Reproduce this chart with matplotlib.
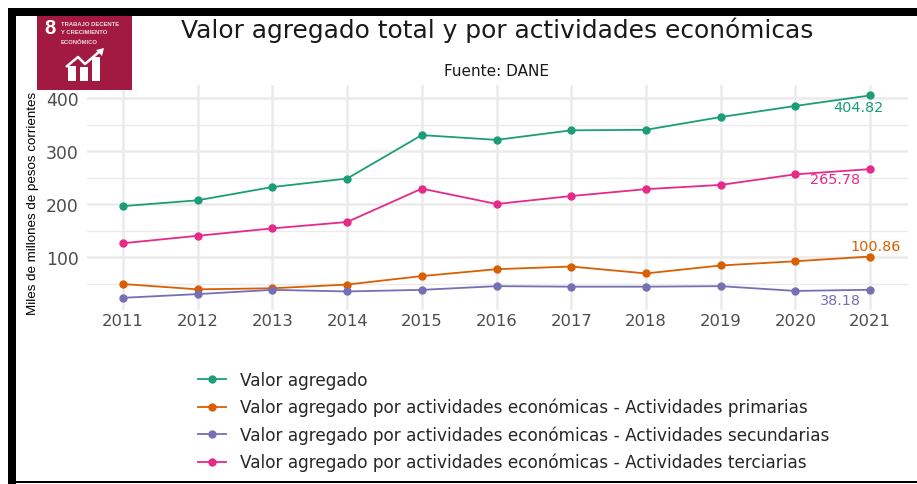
import matplotlib
matplotlib.use("Agg")
import matplotlib.pyplot as plt
from matplotlib.patches import Rectangle, Polygon

# Values
years = [2011, 2012, 2013, 2014, 2015, 2016, 2017, 2018, 2019, 2020, 2021]
valor_agregado = [196, 207, 232, 248, 330, 321, 339, 340, 364, 385, 404.82]
primarias = [49, 39, 41, 48, 64, 77, 82, 69, 84, 92, 100.86]
secundarias = [23, 30, 38, 35, 38, 45, 44, 44, 45, 36, 38.18]
terciarias = [126, 140, 154, 166, 229, 200, 215, 228, 236, 256, 265.78]

yticks = [100, 200, 300, 400]
minor_yticks = [50, 150, 250, 350]

nombres = [
    "Valor agregado",
    "Valor agregado por actividades económicas - Actividades primarias",
    "Valor agregado por actividades económicas - Actividades secundarias",
    "Valor agregado por actividades económicas - Actividades terciarias",
]
colores = ["#1B9E77", "#D95F02", "#7570B3", "#E7298A"]
W, H = 917, 485


def fig_box(x0, y0, x1, y1):
    return [x0 / W, 1 - y1 / H, (x1 - x0) / W, (y1 - y0) / H]


fig = plt.figure(figsize=(W / 100, H / 100), dpi=100)

# black frame round the screenshot
bg = fig.add_axes([0, 0, 1, 1])
bg.set_xlim(0, W)
bg.set_ylim(H, 0)
bg.axis("off")
bg.add_patch(Rectangle((8, 9), W - 8, 8, color="black", lw=0))
bg.add_patch(Rectangle((8, 9), 8, H - 9, color="black", lw=0))
bg.add_patch(Rectangle((8, 482), W - 8, 2, color="black", lw=0))
bg.text(497, 30, "Valor agregado total y por actividades económicas", ha="center", va="center",
        fontsize=17.9, color="#1a1a1a")
bg.text(497, 72, "Fuente: DANE", ha="center", va="center", fontsize=11, color="#1a1a1a")
bg.text(33, 203, "Miles de millones de pesos corrientes", rotation=90, ha="center", va="center",
        fontsize=9.6, family="Liberation Sans", color="black")

ax = fig.add_axes(fig_box(87, 86, 908, 311))
series = [valor_agregado, primarias, secundarias, terciarias]
for vals, nombre, color in zip(series, nombres, colores):
    ax.plot(years, vals, color=color, lw=1.3, marker="o", ms=5, label=nombre, zorder=3)

ax.set_xlim(2011 - 36 / 74.7, 2021 + 38 / 74.7)
ax.set_ylim(400 - 225 / 0.53 + 13 / 0.53, 400 + 13 / 0.53)
ax.set_xticks(years)
ax.set_yticks(yticks)
ax.set_yticks(minor_yticks, minor=True)
ax.grid(True, which="major", color="#ebebeb", lw=1.8)
ax.grid(True, which="minor", axis="y", color="#ebebeb", lw=1)
ax.set_axisbelow(True)
ax.tick_params(which="both", length=0)
ax.tick_params(axis="x", labelsize=11.8, labelcolor="#4d4d4d", pad=2)
ax.tick_params(axis="y", labelsize=12.4, labelcolor="#4d4d4d", pad=6)
for s in ax.spines.values():
    s.set_visible(False)

# last-point labels
ax.text(2020.84, 404.82 - 21, "404.82", color=colores[0], fontsize=10.4, ha="center", va="center")
ax.text(2020.53, 265.78 - 19, "265.78", color=colores[3], fontsize=10.4, ha="center", va="center")
ax.text(2021.07, 100.86 + 20, "100.86", color=colores[1], fontsize=10.4, ha="center", va="center")
ax.text(2020.6, 38.18 - 19, "38.18", color=colores[2], fontsize=10.4, ha="center", va="center")

handles, labels = ax.get_legend_handles_labels()
fig.legend(handles, labels, loc="upper left", bbox_to_anchor=(198 / W, 1 - 372 / H), frameon=False,
           fontsize=12.2, labelcolor="#262626", labelspacing=0.53, handlelength=1.65, handletextpad=0.83,
           borderpad=0, borderaxespad=0)

# ODS 8 badge
logo = fig.add_axes(fig_box(37, 17, 132, 91))
logo.set_xlim(37, 132)
logo.set_ylim(91, 17)
logo.axis("off")
logo.add_patch(Rectangle((37, 17), 95, 74, color="#A21942", lw=0))
logo.text(50, 29, "8", color="white", fontsize=14.5, fontweight="bold", family="Liberation Sans",
          ha="center", va="center")
for y, t in zip([24, 33, 42], ["TRABAJO DECENTE", "Y CRECIMIENTO", "ECONÓMICO"]):
    logo.text(61, y, t, color="#f0dce2", fontsize=4.2, fontweight="bold", family="Liberation Sans",
              ha="left", va="center")
for x0, x1, top in [(68, 76, 67), (80, 88, 68), (92, 100, 58)]:
    logo.add_patch(Rectangle((x0, top), x1 - x0, 82 - top, color="white", lw=0))
logo.plot([66, 78, 85, 100], [68, 58, 65, 52], color="white", lw=1.8, solid_capstyle="butt")
logo.add_patch(Polygon([[96, 51], [104, 49], [102, 57]], color="white", lw=0))

fig.savefig("out.png", dpi=100)
